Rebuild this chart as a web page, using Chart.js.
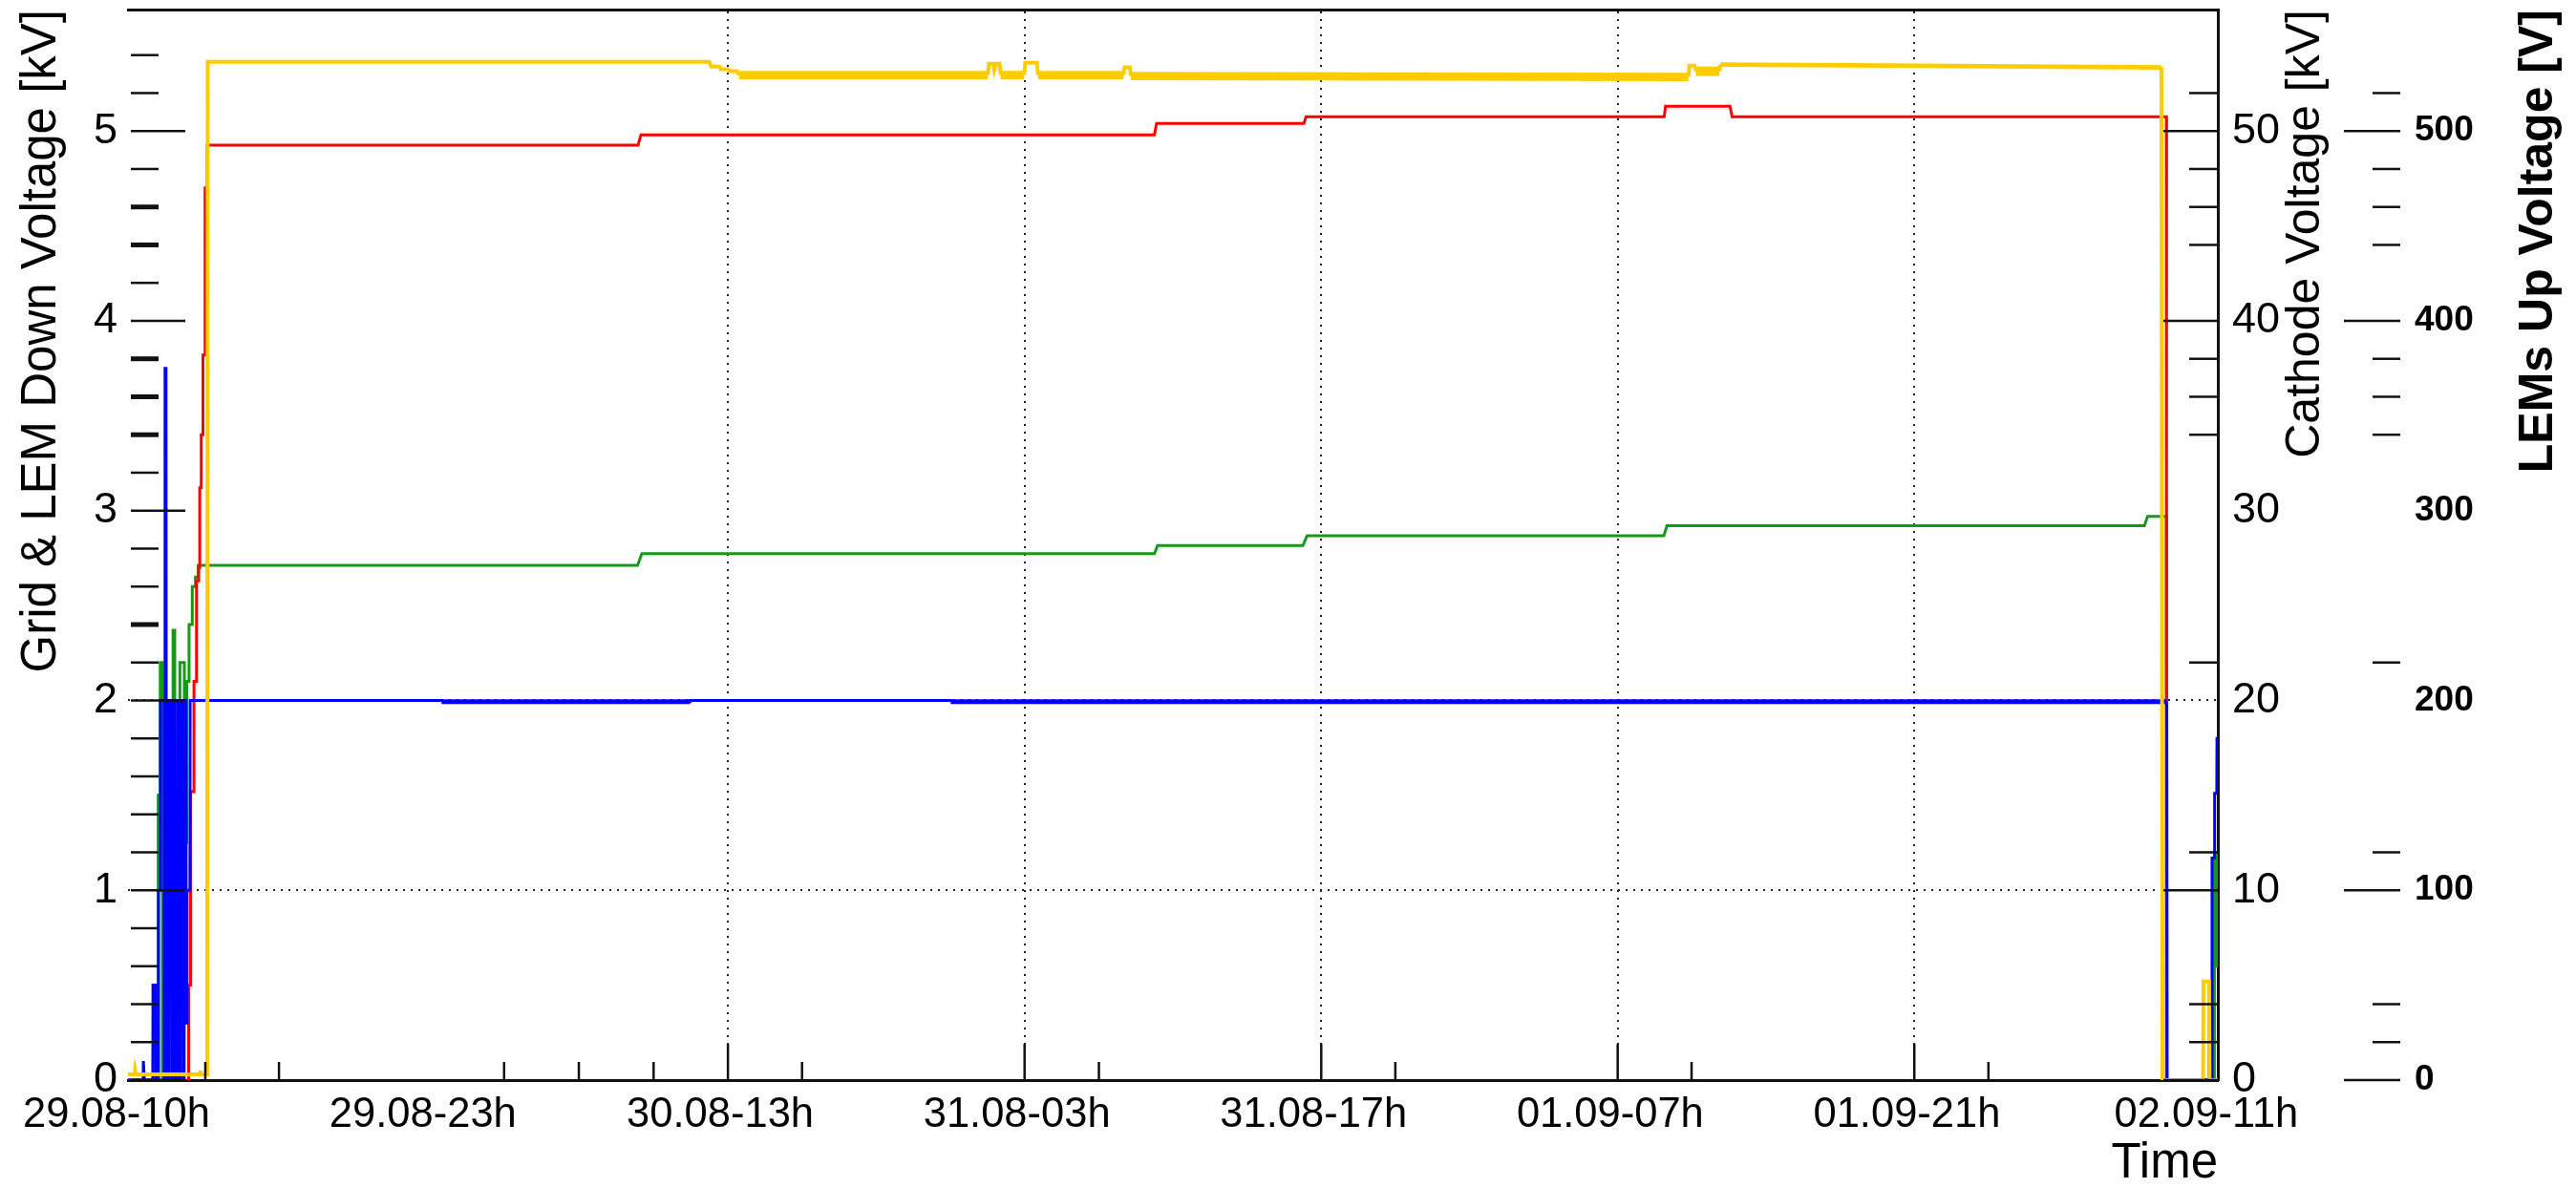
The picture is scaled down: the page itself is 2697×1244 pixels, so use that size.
<!DOCTYPE html>
<html>
<head>
<meta charset="utf-8">
<title>Grid, LEM and cathode voltages</title>
<script src="https://cdn.jsdelivr.net/npm/chart.js@4.4.1/dist/chart.umd.min.js"></script>
<style>
  html, body { margin: 0; padding: 0; background: #fff; }
</style>
</head>
<body>
<canvas id="chart" width="2697" height="1244"></canvas>
<script>
// time axis is in hours counted from 29.08 00:00
const timeRange = [9.69, 107.54]
const timeLabels = ["29.08-10h", "29.08-23h", "30.08-13h", "31.08-03h", "31.08-17h", "01.09-07h", "01.09-21h", "02.09-11h"]
const timeLabelHours = [9.15, 23.5, 37.42, 51.31, 65.2, 79.09, 92.98, 107.0]
const gridHours = [37.78, 51.67, 65.56, 79.44, 93.33]
const minorTimeTicks = [13.31, 16.76, 27.3, 30.8, 34.3, 41.25, 55.15, 69.03, 82.9, 96.8]

// left axis (kV), the two right axes share the same scale x10 and x100
const kvMax = 5.64
const kvLabels = [0, 1, 2, 3, 4, 5]
const kvGridLines = [1, 2]
const kvMinorTicks = [0.2, 0.4, 0.6, 0.8, 1.2, 1.4, 1.6, 1.8, 2.2, 2.4, 2.6, 2.8, 3.2, 3.4, 3.6, 3.8, 4.2, 4.4, 4.6, 4.8, 5.2, 5.4]
const kvBoldTicks = [2.4, 3.4, 3.6, 3.8, 4.4, 4.6]
const cathodeLabels = [0, 10, 20, 30, 40, 50]
const cathodeMajorTicks = [0, 10, 40, 50]
const cathodeMinorTicks = [2, 4, 12, 22, 34, 36, 38, 44, 46, 48, 52]
const lemsLabels = [0, 100, 200, 300, 400, 500]
const lemsMajorTicks = [0, 100, 400, 500]
const lemsMinorTicks = [20, 40, 120, 220, 340, 360, 380, 440, 460, 480, 520]

// [hour, value]
const cathodeKV = [
    [9.69, 0.3], [10.0, 0.3], [10.02, 0.5], [10.05, 0.3], [13.05, 0.3], [13.07, 0.5], [13.1, 0.3],
    [13.4, 0.3], [13.42, 53.65], [36.9, 53.65], [37.0, 53.4], [37.4, 53.4], [37.45, 53.25], [37.8, 53.25],
    [37.85, 53.15], [38.2, 53.15], [38.3, 52.95], [49.95, 52.95], [50.0, 53.55], [50.2, 53.55], [50.25, 53.2],
    [50.35, 53.55], [50.5, 53.55], [50.55, 52.95], [51.65, 52.95], [51.7, 53.6], [52.25, 53.6], [52.3, 52.95],
    [56.3, 52.95], [56.35, 53.35], [56.6, 53.35], [56.65, 52.9], [82.75, 52.85], [82.8, 53.45], [83.05, 53.45],
    [83.1, 53.15], [84.2, 53.15], [84.25, 53.5], [92.0, 53.45], [104.9, 53.35], [104.95, 0],
    [106.85, 0], [106.87, 5.2], [107.13, 5.2], [107.15, 0], [107.54, 0]
]
// [from, to, half width of the noisy band]
const cathodeNoise = [[13.42, 36.9, 0.08], [38.3, 49.95, 0.22], [50.55, 51.65, 0.22], [52.3, 56.3, 0.22], [56.65, 82.75, 0.22], [83.1, 84.2, 0.25], [84.25, 104.9, 0.12]]

const gridKV = [
    [9.69, 0], [10.4, 0], [10.41, 0.1], [10.45, 0.1], [10.46, 0], [10.85, 0], [10.86, 0.5], [10.98, 0.5], [10.99, 0],
    [11.12, 0], [11.12, 1.0], [11.2, 1.0], [11.21, 2.0], [11.38, 2.0], [11.39, 0], [11.42, 0], [11.43, 3.75],
    [11.47, 3.75], [11.48, 2.0], [11.51, 2.0], [11.52, 0], [11.6, 0], [11.61, 2.0], [11.65, 2.0], [11.66, 1.0],
    [11.74, 1.0], [11.75, 0], [11.78, 0], [11.79, 2.0], [11.87, 2.0], [11.88, 0], [11.96, 0], [11.97, 1.0],
    [12.01, 1.0], [12.02, 2.0], [12.09, 2.0], [12.1, 0], [12.14, 0], [12.15, 1.2], [12.18, 1.2], [12.19, 2.0],
    [12.27, 2.0], [12.28, 0], [12.32, 0], [12.33, 1.0], [12.36, 1.0], [12.37, 2.0], [12.41, 2.0], [12.42, 0.3],
    [12.45, 0.3], [12.46, 1.0], [12.59, 1.0], [12.6, 2.0], [24.36, 2.0], [24.37, 1.994], [36.0, 1.994],
    [36.01, 2.0], [48.2, 2.0], [48.21, 1.994], [105.15, 1.994], [105.17, 0], [107.26, 0], [107.27, 1.17],
    [107.38, 1.17], [107.39, 1.51], [107.49, 1.51], [107.5, 1.8], [107.54, 1.8]
]
const gridNoise = [[24.37, 36.0, 0.0125], [48.21, 105.15, 0.0125]]

const lemsUpV = [
    [9.69, 0], [12.53, 0], [12.53, 50], [12.62, 50], [12.62, 152], [12.78, 152], [12.78, 210], [12.9, 210],
    [12.9, 263], [13.0, 263], [13.0, 270], [13.05, 270], [13.05, 312], [13.12, 312], [13.12, 340], [13.2, 340],
    [13.2, 382], [13.3, 382], [13.3, 470], [13.38, 470], [13.4, 492.5], [33.57, 492.5], [33.71, 498],
    [57.75, 498], [57.85, 504], [64.75, 504], [64.85, 507.5], [81.62, 507.5], [81.68, 513], [84.7, 513],
    [84.8, 507.5], [105.13, 507.5], [105.14, 0], [107.54, 0]
]

const lemDownKV = [
    [9.69, 0], [11.08, 0], [11.08, 1.0], [11.12, 1.0], [11.12, 1.5], [11.2, 1.5], [11.2, 2.2], [11.3, 2.2],
    [11.3, 0], [11.8, 0], [11.8, 2.37], [11.88, 2.37], [11.88, 0], [12.02, 0], [12.02, 0.4], [12.06, 0.4],
    [12.06, 1.5], [12.12, 1.5], [12.12, 2.2], [12.33, 2.2], [12.33, 1.25], [12.44, 1.25], [12.44, 2.1],
    [12.55, 2.1], [12.55, 2.4], [12.7, 2.4], [12.7, 2.6], [12.85, 2.6], [12.85, 2.65], [12.98, 2.65],
    [12.98, 2.712], [33.55, 2.712], [33.75, 2.773], [57.75, 2.773], [57.9, 2.816], [64.7, 2.816],
    [64.9, 2.868], [81.6, 2.868], [81.75, 2.92], [104.1, 2.92], [104.25, 2.97], [105.13, 2.97], [105.14, 0],
    [107.12, 0], [107.12, 0.49], [107.26, 0.49], [107.26, 0], [107.38, 0], [107.38, 1.2], [107.5, 1.2],
    [107.5, 0.6], [107.54, 0.6]
]

Chart.defaults.font.family = '"Liberation Sans", Arial, Helvetica, sans-serif'
Chart.defaults.color = '#000'

function series(label, rows, noise, color, axis, width) {
    return {
        label,
        xAxisID: 'x',
        yAxisID: axis,
        data: rows.map(([x, y]) => ({ x, y })),
        borderColor: color,
        borderWidth: width,
        borderCapStyle: 'butt',
        borderJoinStyle: 'miter',
        pointRadius: 0,
        tension: 0,
        fill: false,
        segment: {
            // noisy readings show up as a thicker band
            borderWidth: c => {
                const a = rows[c.p0DataIndex], b = rows[c.p1DataIndex]
                if (!b || b[0] - a[0] < 0.05) return width
                const band = noise.find(([from, to]) => a[0] >= from && a[0] < to)
                if (!band) return width
                const s = c.chart.scales[axis]
                return Math.max(width, Math.abs(s.getPixelForValue(a[1] + band[2]) - s.getPixelForValue(a[1] - band[2])))
            }
        }
    }
}

// ticks are drawn inside the frame, like the original plot
const innerTicks = {
    id: 'innerTicks',
    afterDraw(chart) {
        const { ctx, chartArea: area, scales } = chart
        const sets = [
            { axis: 'x', values: gridHours, len: 38 },
            { axis: 'x', values: minorTimeTicks, len: 19 },
            { axis: 'y', values: kvLabels, len: 57 },
            { axis: 'y', values: kvMinorTicks, len: 29 },
            { axis: 'y', values: kvBoldTicks, len: 29, width: 5 },
            { axis: 'yc', values: cathodeMajorTicks, len: 57 },
            { axis: 'yc', values: cathodeMinorTicks, len: 30 },
            { axis: 'yl', values: lemsMajorTicks, len: 59 },
            { axis: 'yl', values: lemsMinorTicks, len: 29 },
        ]
        ctx.save()
        ctx.strokeStyle = '#111'
        sets.forEach(set => {
            const s = scales[set.axis]
            ctx.lineWidth = set.width || 2.5
            set.values.forEach(v => {
                const p = s.getPixelForValue(v)
                ctx.beginPath()
                if (set.axis === 'x') {
                    ctx.moveTo(p, area.bottom); ctx.lineTo(p, area.bottom - set.len)
                } else if (set.axis === 'y') {
                    ctx.moveTo(area.left + 3, p); ctx.lineTo(area.left + 3 + set.len, p)
                } else {
                    const edge = set.axis === 'yc' ? area.right : s.left
                    ctx.moveTo(edge, p); ctx.lineTo(edge - set.len, p)
                }
                ctx.stroke()
            })
        })
        ctx.restore()
    }
}

// right hand titles read bottom to top and hang from the top of the frame
const sideTitles = {
    id: 'sideTitles',
    afterDraw(chart) {
        const { ctx, chartArea, scales } = chart
        const items = [
            { text: 'Cathode Voltage [kV]', x: scales.yc.left + 92, font: '50px "Liberation Sans", Arial, sans-serif' },
            { text: 'LEMs Up Voltage [V]', x: scales.yl.left + 145, font: 'bold 50px "Liberation Sans", Arial, sans-serif' },
        ]
        ctx.save()
        ctx.fillStyle = '#000'
        items.forEach(it => {
            ctx.save()
            ctx.font = it.font
            ctx.translate(it.x, chartArea.top)
            ctx.rotate(-Math.PI / 2)
            ctx.textAlign = 'right'
            ctx.textBaseline = 'middle'
            ctx.fillText(it.text, 0, 0)
            ctx.restore()
        })
        ctx.restore()
    }
}

const setTicks = values => scale => { scale.ticks = values.map(value => ({ value })) }
// fixed box sizes so the frame sits where the original one does
const fixBox = (w, h) => s => {
    if (w !== null) s.width = w
    if (h !== null) s.height = h
    s.paddingTop = 0; s.paddingBottom = 0; s.paddingLeft = 0; s.paddingRight = 0
}

new Chart(document.getElementById('chart'), {
    type: 'line',
    data: {
        datasets: [
            series('Cathode', cathodeKV, cathodeNoise, '#ffcc00', 'yc', 4),
            series('Grid', gridKV, gridNoise, '#0000ff', 'y', 3),
            series('LEMs Up', lemsUpV, [], '#ff0000', 'yl', 3),
            series('LEM Down', lemDownKV, [], '#149a14', 'y', 3),
        ]
    },
    options: {
        responsive: false,
        devicePixelRatio: 1,
        animation: false,
        layout: { padding: { top: 10, left: 0, right: 0, bottom: 0 } },
        plugins: { legend: { display: false }, tooltip: { enabled: false } },
        scales: {
            x: {
                type: 'linear', position: 'bottom', min: timeRange[0], max: timeRange[1],
                afterBuildTicks: setTicks(timeLabelHours),
                afterFit: fixBox(null, 113),
                ticks: { callback: (v, i) => timeLabels[i], autoSkip: false, maxRotation: 0, minRotation: 0, padding: 11, font: { size: 43.5 } },
                grid: { drawOnChartArea: false, drawTicks: false },
                border: { display: true, width: 3, color: '#111' },
                title: { display: true, text: 'Time', align: 'end', padding: 0, font: { size: 51, lineHeight: 1 } }
            },
            xt: {
                type: 'linear', position: 'top', min: timeRange[0], max: timeRange[1],
                afterBuildTicks: setTicks(gridHours),
                afterFit: fixBox(null, 0),
                ticks: { display: false },
                grid: { drawOnChartArea: true, drawTicks: false, color: '#222', lineWidth: 2 },
                border: { display: true, width: 3, color: '#111', dash: [2, 6] }
            },
            y: {
                type: 'linear', position: 'left', min: 0, max: kvMax,
                afterBuildTicks: setTicks(kvLabels),
                afterFit: fixBox(134, null),
                ticks: { padding: 11, font: { size: 45 } },
                grid: { drawOnChartArea: true, drawTicks: false, lineWidth: 2, color: c => kvGridLines.includes(c.tick && c.tick.value) ? '#222' : 'rgba(0,0,0,0)' },
                border: { display: false, dash: [2, 6] },
                title: { display: true, text: 'Grid & LEM Down Voltage [kV]', align: 'end', padding: { top: 18 }, font: { size: 51, lineHeight: 1 } }
            },
            yc: {
                type: 'linear', position: 'right', weight: 0, min: 0, max: kvMax * 10,
                afterBuildTicks: setTicks(cathodeLabels),
                afterFit: fixBox(191, null),
                ticks: { padding: 15, font: { size: 45 } },
                grid: { drawOnChartArea: false, drawTicks: false },
                border: { display: true, width: 3, color: '#111' }
            },
            yl: {
                type: 'linear', position: 'right', weight: 1, min: 0, max: kvMax * 100,
                afterBuildTicks: setTicks(lemsLabels),
                afterFit: fixBox(184, null),
                ticks: { padding: 15, font: { size: 37, weight: 'bold' } },
                grid: { drawOnChartArea: false, drawTicks: false },
                border: { display: false }
            }
        }
    },
    plugins: [innerTicks, sideTitles]
})
</script>
</body>
</html>
